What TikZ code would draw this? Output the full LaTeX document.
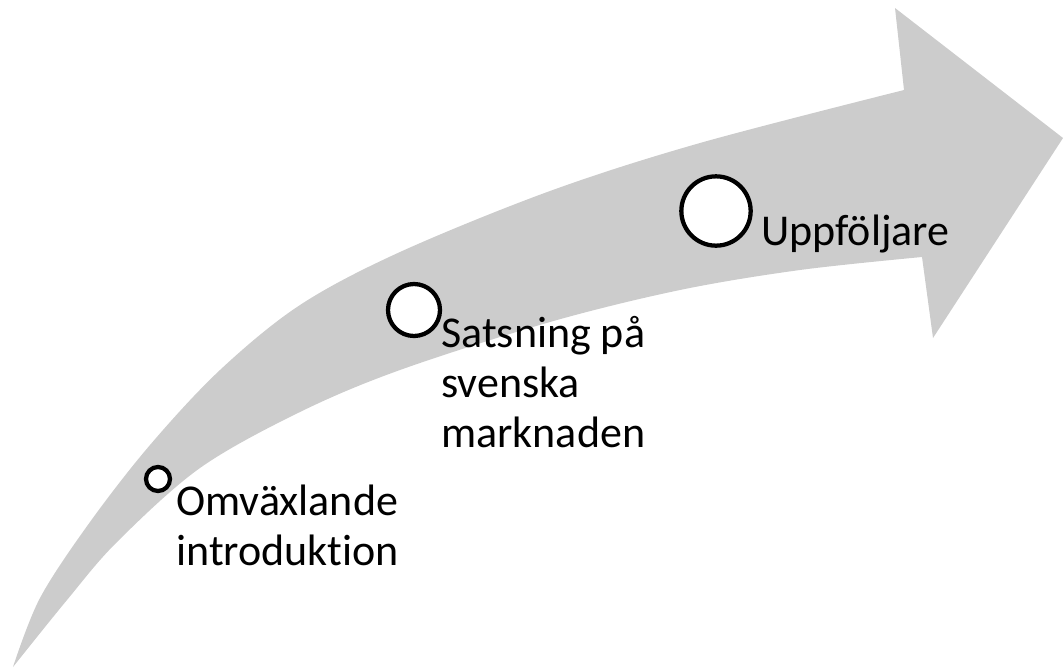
\documentclass[tikz,border=0pt]{standalone}
\usepackage{fontspec}
\setmainfont{Carlito}[Ligatures=NoCommon]
\definecolor{arrowgray}{HTML}{CCCCCC}
\begin{document}
\begin{tikzpicture}[x=0.75pt,y=-0.75pt,
  stepmark/.style={circle,draw=black,fill=white,line width=3.2pt,inner sep=0pt},
  steplabel/.style={anchor=base west,inner sep=0pt,align=left,
    font=\fontsize{33}{37.5}\selectfont}]
\useasboundingbox (0,0) rectangle (1063,668);
% curved arrow
\fill[arrowgray]
  plot[smooth,tension=0.55] coordinates {(13,667) (40,598) (90,522) (150,445) (220,370) (300,305) (400,252) (550,191) (700,143) (904,90)}
  -- (895,8) -- (1063,138) -- (933,338) -- (922,257)
  -- plot[smooth,tension=0.55] coordinates {(922,257) (800,270) (680,290) (550,322) (400,370) (300,412) (200,468) (117,542) (67,600) (13,667)}
  -- cycle;
% markers
\node[stepmark,minimum size=18pt] (c1) at (158,479) {};
\node[stepmark,minimum size=39pt] (c2) at (414,310) {};
\node[stepmark,minimum size=52pt] (c3) at (716,211) {};
% labels (anchored at the baseline of the last line)
\node[steplabel] (t1) at (176,565) {Omväxlande\\introduktion};
\node[steplabel] (t2) at (441,447) {Satsning på\\svenska\\marknaden};
\node[steplabel] (t3) at (761,245) {Uppföljare};
\end{tikzpicture}
\end{document}
